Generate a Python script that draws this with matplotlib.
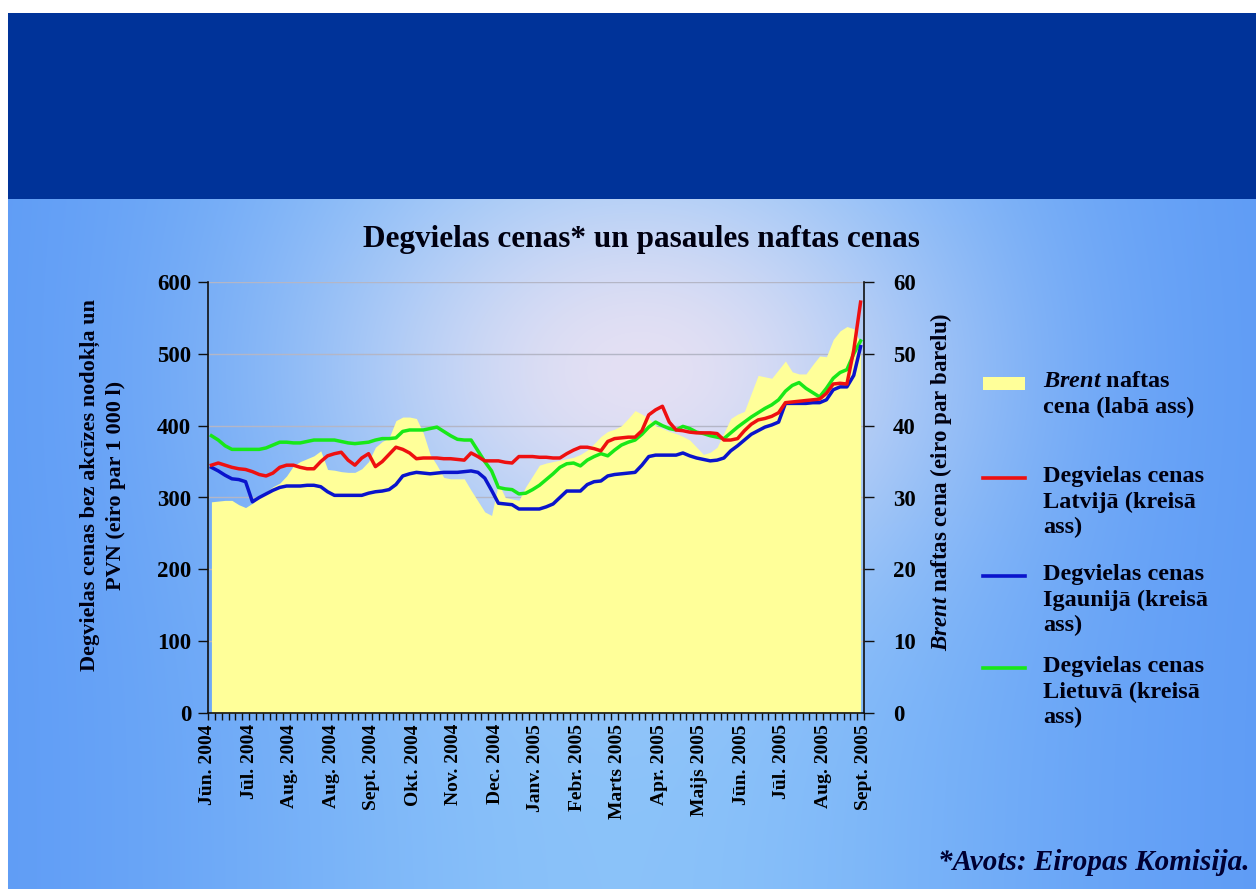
import numpy as np
import matplotlib
matplotlib.use("Agg")
import matplotlib.pyplot as plt
from matplotlib.patches import Rectangle
from matplotlib.lines import Line2D
from matplotlib.ticker import MultipleLocator, FixedLocator

plt.rcParams['font.family'] = ['Liberation Serif', 'DejaVu Serif']
plt.rcParams['font.weight'] = 'bold'
plt.rcParams['mathtext.fontset'] = 'custom'
plt.rcParams['mathtext.it'] = 'Liberation Serif:italic:bold'
plt.rcParams['mathtext.rm'] = 'Liberation Serif:bold'
plt.rcParams['mathtext.bf'] = 'Liberation Serif:bold'

# ---- data (weekly observations, Jun 2004 - Sep 2005) ----
month_labels = ['Jūn. 2004', 'Jūl. 2004', 'Aug. 2004', 'Aug. 2004', 'Sept. 2004',
                'Okt. 2004', 'Nov. 2004', 'Dec. 2004', 'Janv. 2005', 'Febr. 2005',
                'Marts 2005', 'Apr. 2005', 'Maijs 2005', 'Jūn. 2005', 'Jūl. 2005',
                'Aug. 2005', 'Sept. 2005']

# Brent crude, EUR per barrel (right axis)
brent = [29.4, 29.5, 29.6, 29.6, 29.0, 28.6, 29.2, 30.0, 30.8, 31.5,
         32.0, 33.0, 34.4, 35.0, 35.4, 35.8, 36.5, 33.9, 33.8, 33.6,
         33.5, 33.5, 34.0, 35.0, 37.0, 37.8, 38.3, 40.7, 41.2, 41.2,
         41.0, 39.0, 36.0, 34.5, 32.8, 32.6, 32.6, 32.6, 31.0, 29.5,
         28.0, 27.5, 32.0, 30.0, 29.8, 29.6, 31.5, 33.0, 34.5, 34.8,
         35.0, 35.2, 35.4, 35.6, 36.0, 36.6, 37.5, 38.5, 39.2, 39.5,
         40.0, 41.0, 42.1, 41.6, 41.0, 40.0, 39.6, 39.2, 38.9, 38.5,
         38.0, 37.0, 36.0, 36.3, 37.0, 39.0, 41.0, 41.6, 42.0, 44.5,
         47.0, 46.8, 46.6, 47.8, 49.0, 47.5, 47.2, 47.2, 48.5, 49.7,
         49.6, 52.0, 53.2, 53.8, 53.5, 51.5]

# Fuel prices without excise and VAT, EUR per 1000 l (left axis)
latvia = [345, 348, 345, 342, 340, 339, 336, 332, 330, 334,
          342, 345, 345, 342, 340, 340, 350, 358, 361, 363,
          352, 345, 355, 361, 343, 350, 360, 370, 367, 362,
          354, 355, 355, 355, 354, 354, 353, 352, 362, 357,
          351, 351, 351, 349, 348, 357, 357, 357, 356, 356,
          355, 355, 361, 366, 370, 370, 368, 365, 378, 382,
          383, 384, 384, 393, 415, 422, 427, 405, 394, 393,
          391, 390, 390, 390, 389, 380, 380, 382, 393, 402,
          408, 410, 413, 418, 432, 433, 434, 435, 436, 437,
          445, 458, 459, 458, 505, 572]

estonia = [342, 337, 331, 326, 325, 322, 294, 300, 305, 310,
           314, 316, 316, 316, 317, 317, 315, 308, 303, 303,
           303, 303, 303, 306, 308, 309, 311, 318, 330, 333,
           335, 334, 333, 334, 335, 335, 335, 336, 337, 335,
           327, 310, 292, 291, 290, 284, 284, 284, 284, 287,
           291, 300, 309, 309, 309, 318, 322, 323, 330, 332,
           333, 334, 335, 345, 357, 359, 359, 359, 359, 362,
           358, 355, 353, 351, 352, 355, 365, 372, 380, 388,
           393, 398, 401, 405, 431, 431, 431, 431, 432, 432,
           436, 450, 454, 454, 470, 510]

lithuania = [386, 380, 372, 367, 367, 367, 367, 367, 369, 373,
             377, 377, 376, 376, 378, 380, 380, 380, 380, 378,
             376, 375, 376, 377, 380, 382, 382, 383, 392, 394,
             394, 394, 396, 398, 392, 386, 381, 380, 380, 365,
             350, 337, 314, 312, 311, 305, 306, 311, 317, 325,
             333, 342, 347, 348, 344, 352, 357, 361, 358, 366,
             373, 377, 380, 388, 398, 405, 400, 396, 394, 399,
             396, 391, 389, 386, 384, 382, 390, 398, 405, 412,
             418, 424, 429, 436, 448, 456, 460, 452, 446, 440,
             452, 466, 474, 478, 500, 518]

W, H = 1256, 889
fig = plt.figure(figsize=(W / 100, H / 100), dpi=100)

# ---- slide background: blue with a lighter central band and a soft glow ----
yy, xx = np.mgrid[0:H, 0:W]
side = np.array([88, 150, 245]) / 255.0
mid = np.array([138, 194, 250]) / 255.0
band = np.exp(-((xx - 620) / 460.0) ** 2)
bg = side + (mid - side) * band[..., None]
glow = np.exp(-(((xx - 640) / 290.0) ** 2 + ((yy - 370) / 210.0) ** 2))
centre = np.array([228, 224, 243]) / 255.0
bg = bg + (centre - bg) * glow[..., None]
bg[:13, :] = 1.0
bg[:, :8] = 1.0
bg[13:199, 8:] = np.array([0, 51, 153]) / 255.0
bax = fig.add_axes([0, 0, 1, 1], zorder=-10)
bax.imshow(bg, aspect='auto', interpolation='bilinear')
bax.set_axis_off()

# ---- plot axes ----
x0, x1, y0, y1 = 208, 864, 282, 713
rect = [x0 / W, 1 - y1 / H, (x1 - x0) / W, (y1 - y0) / H]
ax = fig.add_axes(rect)
ax2 = ax.twinx()
ax.set_zorder(2)
ax2.set_zorder(1)
ax.patch.set_visible(False)
ax2.patch.set_visible(False)

n = len(brent)
xs = np.arange(n) + 0.5

ax2.fill_between(xs, brent, 0, color='#ffff99', lw=0, zorder=2)
ax2.set_ylim(0, 60)
ax2.yaxis.set_major_locator(MultipleLocator(10))
ax2.set_axisbelow(True)
ax2.grid(axis='y', color='#b4b6c6', lw=1.0, zorder=0)

line_w = 2.5
ax.plot(xs, lithuania, color='#18e818', lw=line_w, zorder=3)
ax.plot(xs, estonia, color='#0a14cc', lw=line_w, zorder=4)
ax.plot(xs, latvia, color='#ee1010', lw=line_w, zorder=5)
ax.set_ylim(0, 600)
ax.set_xlim(0, n)
ax.yaxis.set_major_locator(MultipleLocator(100))

ax.xaxis.set_major_locator(FixedLocator(np.arange(0, n + 1, 6)))
ax.xaxis.set_minor_locator(MultipleLocator(1))
ax.set_xticklabels(month_labels, rotation=90, fontsize=14, fontweight='bold')
ax.tick_params(axis='x', which='both', direction='out', length=5, width=1,
               color='#101010', pad=3)
ax.tick_params(axis='y', direction='out', length=7, width=1, color='#101010',
               labelsize=16.5, pad=5)
ax2.tick_params(axis='y', direction='out', length=7, width=1, color='#101010',
                labelsize=16.5, pad=14)
for lab in ax.get_yticklabels() + ax2.get_yticklabels():
    lab.set_fontweight('bold')

for sp in ['top', 'right']:
    ax.spines[sp].set_visible(False)
for sp in ['top', 'left', 'bottom']:
    ax2.spines[sp].set_visible(False)
for sp in [ax.spines['left'], ax.spines['bottom'], ax2.spines['right']]:
    sp.set_color('#101010')
    sp.set_linewidth(1.2)

# ---- texts ----
def fx(px):
    return px / W

def fy(py):
    return 1 - py / H

fig.text(fx(641), fy(240), 'Degvielas cenas* un pasaules naftas cenas',
         ha='center', va='center', fontsize=22.5, fontweight='bold', color='#000010')
fig.text(fx(103), fy(485), 'Degvielas cenas bez akcīzes nodokļa un\nPVN (eiro par 1 000 l)',
         rotation=90, ha='center', va='center', multialignment='center',
         fontsize=16, fontweight='bold', linespacing=1.45, color='#000010')
fig.text(fx(941), fy(482), r'$\mathit{Brent}$ naftas cena (eiro par barelu)',
         rotation=90, ha='center', va='center', fontsize=16.5, fontweight='bold',
         color='#000010')
fig.text(fx(1250), fy(862), '*Avots: Eiropas Komisija.', ha='right', va='center',
         fontsize=21, fontweight='bold', style='italic', color='#000033')

# ---- legend ----
fig.patches.append(Rectangle((fx(983), fy(390)), fx(1025) - fx(983), fy(377) - fy(390),
                             transform=fig.transFigure, facecolor='#ffff99',
                             edgecolor='none'))
legend_rows = [
    (None, r'$\mathit{Brent}$ naftas' + '\ncena (labā ass)', 385),
    ('#ee1010', 'Degvielas cenas\nLatvijā (kreisā\nass)', 480),
    ('#0a14cc', 'Degvielas cenas\nIgaunijā (kreisā\nass)', 578),
    ('#18e818', 'Degvielas cenas\nLietuvā (kreisā\nass)', 670),
]
for colour, label, ypx in legend_rows:
    if colour is not None:
        fig.lines.append(Line2D([fx(983), fx(1025)], [fy(ypx - 2), fy(ypx - 2)],
                                transform=fig.transFigure, color=colour, lw=2.6))
    fig.text(fx(1043), fy(ypx - 14), label, ha='left', va='top', fontsize=17.5,
             fontweight='bold', linespacing=1.28, color='#000010')

fig.savefig('out.png', dpi=100)
